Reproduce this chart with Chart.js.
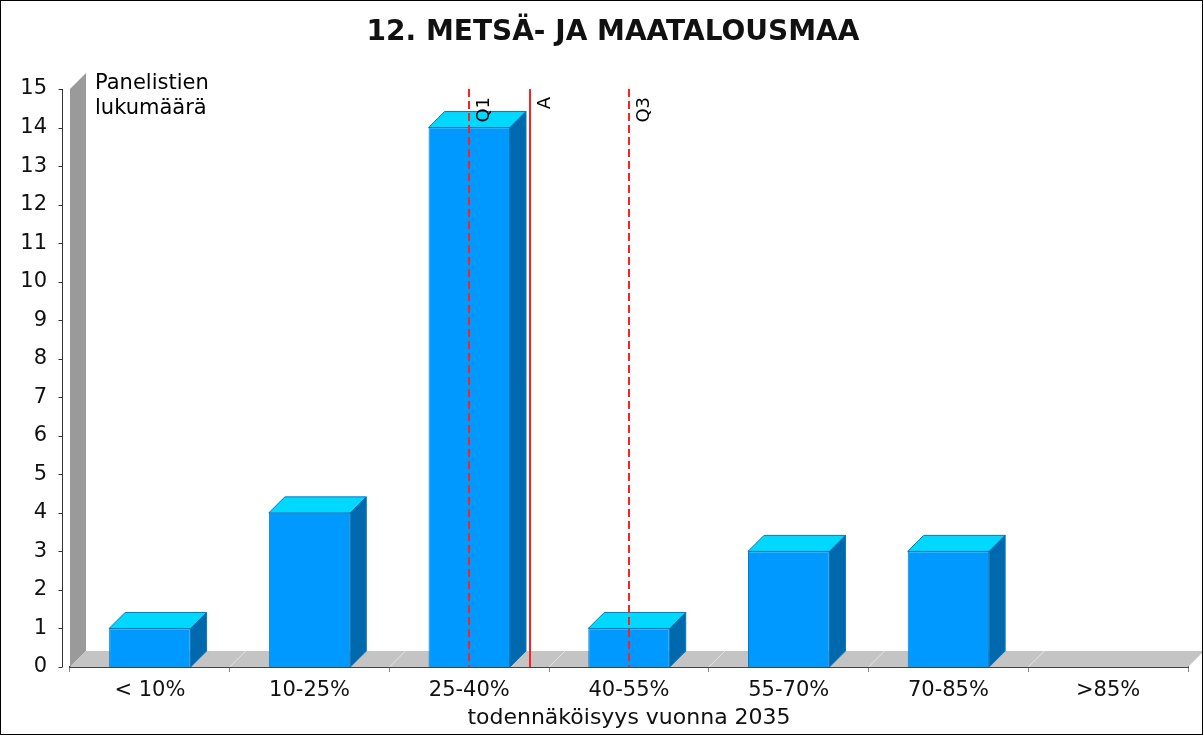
<!DOCTYPE html>
<html>
<head>
<meta charset="utf-8">
<script src="https://cdn.jsdelivr.net/npm/chart.js@4/dist/chart.umd.min.js"></script>
<style>
  html, body { margin: 0; padding: 0; background: #fff; }
  #wrap { width: 1203px; height: 735px; position: relative; }
</style>
</head>
<body>
<div id="wrap"><canvas id="chart"></canvas></div>
<script>
// data
const categories = ['< 10%', '10-25%', '25-40%', '40-55%', '55-70%', '70-85%', '>85%'];
const panelists = [1, 4, 14, 1, 3, 3, 0];
const yTicks = [0, 15];            // min, max of the count axis
const markerLabels = ['Q1', 'A', 'Q3'];
const markerValues = [2.0, 2.38, 3.0];   // in category units (index of category centre)

const title = '12. METSÄ- JA MAATALOUSMAA';
const depth = 16;
const font = 'DejaVu Sans';

const chartFrame = {
    id: 'chartFrame',
    beforeDraw(chart) {
        const ctx = chart.ctx;
        ctx.save();
        ctx.fillStyle = '#fff';
        ctx.fillRect(0, 0, chart.width, chart.height);
        // title, centred on the whole picture like the original
        ctx.fillStyle = '#111';
        ctx.font = 'bold 28px "' + font + '"';
        ctx.textAlign = 'center';
        ctx.textBaseline = 'middle';
        ctx.fillText(title, 613, 33);
        ctx.restore();
    },
    beforeDatasetsDraw(chart) {
        const ctx = chart.ctx;
        const area = chart.chartArea;
        const x = chart.scales.x;
        const y = chart.scales.y;
        ctx.save();
        // left wall
        ctx.fillStyle = '#9a9a9a';
        ctx.beginPath();
        ctx.moveTo(area.left, area.top);
        ctx.lineTo(area.left + depth, area.top - depth);
        ctx.lineTo(area.left + depth, area.bottom - depth);
        ctx.lineTo(area.left, area.bottom);
        ctx.closePath();
        ctx.fill();
        // floor
        ctx.fillStyle = '#c4c4c4';
        ctx.beginPath();
        ctx.moveTo(area.left, area.bottom);
        ctx.lineTo(area.left + depth, area.bottom - depth);
        ctx.lineTo(area.right + depth, area.bottom - depth);
        ctx.lineTo(area.right, area.bottom);
        ctx.closePath();
        ctx.fill();
        // floor separators at category boundaries
        ctx.strokeStyle = '#e6e6e6';
        ctx.lineWidth = 1;
        for (let i = 1; i < categories.length; i++) {
            const bx = (x.getPixelForValue(i - 1) + x.getPixelForValue(i)) / 2;
            ctx.beginPath();
            ctx.moveTo(bx, area.bottom);
            ctx.lineTo(bx + depth, area.bottom - depth);
            ctx.stroke();
        }
        // value axis line, set off from the plot
        const ax = Math.round(area.left - 8) + 0.5;
        ctx.strokeStyle = '#333';
        ctx.beginPath();
        ctx.moveTo(ax, y.getPixelForValue(yTicks[1]));
        ctx.lineTo(ax, y.getPixelForValue(yTicks[0]));
        for (let v = yTicks[0]; v <= yTicks[1]; v++) {
            const ty = Math.round(y.getPixelForValue(v)) + 0.5;
            ctx.moveTo(ax - 4, ty);
            ctx.lineTo(ax, ty);
        }
        ctx.stroke();
        // axis label inside the plot
        ctx.fillStyle = '#000';
        ctx.font = '21px "' + font + '"';
        ctx.textBaseline = 'alphabetic';
        ctx.fillText('Panelistien', area.left + 25, 89);
        ctx.fillText('lukumäärä', area.left + 25, 114);
        ctx.restore();
    },
    afterDatasetsDraw(chart) {
        const ctx = chart.ctx;
        const area = chart.chartArea;
        const meta = chart.getDatasetMeta(0);
        ctx.save();
        ctx.lineWidth = 1;
        ctx.strokeStyle = '#0a78c0';
        meta.data.forEach((bar, i) => {
            if (!panelists[i]) return;
            const p = bar.getProps(['x', 'y', 'base', 'width'], true);
            const l = p.x - p.width / 2, r = p.x + p.width / 2;
            // top face
            ctx.fillStyle = '#00d8ff';
            ctx.beginPath();
            ctx.moveTo(l, p.y);
            ctx.lineTo(l + depth, p.y - depth);
            ctx.lineTo(r + depth, p.y - depth);
            ctx.lineTo(r, p.y);
            ctx.closePath();
            ctx.fill();
            ctx.stroke();
            // side face
            ctx.fillStyle = '#0068ac';
            ctx.beginPath();
            ctx.moveTo(r, p.y);
            ctx.lineTo(r + depth, p.y - depth);
            ctx.lineTo(r + depth, p.base - depth);
            ctx.lineTo(r, p.base);
            ctx.closePath();
            ctx.fill();
            ctx.stroke();
        });
        // quartile / average markers
        const x = chart.scales.x;
        ctx.strokeStyle = '#ff2020';
        ctx.fillStyle = '#000';
        ctx.lineWidth = 2;
        ctx.font = '18px "' + font + '"';
        markerValues.forEach((v, i) => {
            const mx = Math.round(x.getPixelForValue(v));
            ctx.setLineDash(markerLabels[i] === 'A' ? [] : [8, 4]);
            ctx.beginPath();
            ctx.moveTo(mx, area.top);
            ctx.lineTo(mx, area.bottom);
            ctx.stroke();
            ctx.save();
            ctx.translate(mx + 6, area.top + 8);
            ctx.rotate(-Math.PI / 2);
            ctx.textAlign = 'right';
            ctx.textBaseline = 'top';
            ctx.fillText(markerLabels[i], 0, 0);
            ctx.restore();
        });
        ctx.restore();
    },
    afterDraw(chart) {
        const ctx = chart.ctx;
        ctx.save();
        ctx.strokeStyle = '#000';
        ctx.lineWidth = 1;
        ctx.strokeRect(0.5, 0.5, chart.width - 1, chart.height - 1);
        ctx.restore();
    }
};

const ctx = document.getElementById('chart').getContext('2d');
const chart = new Chart(ctx, {
    type: 'bar',
    data: {
        labels: categories,
        datasets: [{
            label: 'Panelistien lukumäärä',
            data: panelists,
            backgroundColor: '#0099ff',
            borderColor: '#0a78c0',
            borderWidth: 1,
            categoryPercentage: 1,
            barPercentage: 0.51
        }]
    },
    plugins: [chartFrame],
    options: {
        responsive: true,
        maintainAspectRatio: false,
        animation: false,
        devicePixelRatio: 1,
        layout: {
            padding: { top: 89, left: 0, right: 15, bottom: 0 }
        },
        plugins: {
            legend: { display: false },
            tooltip: { enabled: false },
            title: { display: false }
        },
        scales: {
            x: {
                grid: {
                    display: true,
                    drawOnChartArea: false,
                    drawTicks: true,
                    tickLength: 5,
                    color: '#888',
                    offset: true
                },
                border: { display: true, color: '#444', width: 2 },
                ticks: {
                    color: '#111',
                    font: { family: font, size: 21 },
                    padding: 6,
                    maxRotation: 0
                },
                title: {
                    display: true,
                    text: 'todennäköisyys vuonna 2035',
                    color: '#111',
                    font: { family: font, size: 22 },
                    padding: { top: 0, bottom: 4 }
                },
                afterFit(scale) { scale.height = 68; }
            },
            y: {
                min: yTicks[0],
                max: yTicks[1],
                grid: { display: false, drawTicks: false },
                border: { display: false },
                ticks: {
                    stepSize: 1,
                    color: '#111',
                    font: { family: font, size: 21 },
                    padding: 23
                },
                afterFit(scale) { scale.width = 70; }
            }
        }
    }
});
</script>
</body>
</html>
